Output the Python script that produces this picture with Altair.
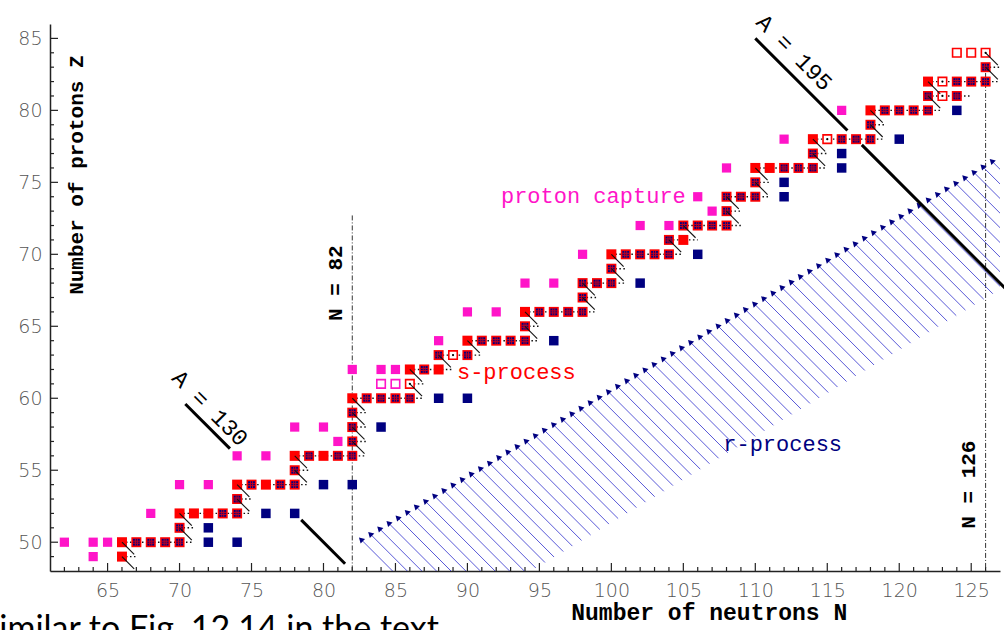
import altair as alt
import pandas as pd

PINK = "#ff14c8"
RED = "#ff0000"
NAVY = "#000080"
HATCH = "#3c3cd0"

# ---- nuclides (N, Z) by class ----
p_N = [62, 64, 65, 64, 68, 70, 72, 74, 76, 81, 78, 80, 82, 84, 85, 88, 90, 92, 94, 96, 98, 102, 104, 107, 106, 108, 112, 116]
p_Z = [50, 50, 50, 49, 52, 54, 54, 56, 56, 57, 58, 58, 62, 62, 62, 64, 66, 66, 68, 68, 70, 72, 72, 73, 74, 76, 78, 80]

s_N = [66, 66, 70, 71, 72, 74, 76, 78, 80, 82, 86, 88, 90, 94, 100, 105, 110, 111, 114, 118, 122]
s_Z = [49, 50, 52, 52, 52, 54, 54, 56, 56, 60, 62, 62, 64, 66, 70, 71, 76, 76, 78, 80, 82]

sr_N = [67, 68, 69, 70, 70, 73, 74, 74, 75, 77, 78, 78, 79, 81, 82, 82, 82, 82, 83, 84, 85, 86, 87, 88, 90,
        91, 92, 93, 94, 94, 95, 96, 97, 98, 98, 98, 99, 100, 100, 101, 102, 103, 104, 104, 105, 106, 107, 108,
        108, 108, 109, 110, 110, 112, 113, 114, 114, 116, 117, 118, 118, 119, 120, 121, 122, 122, 124, 124, 125,
        126, 126]
sr_Z = [50, 50, 50, 50, 51, 52, 52, 53, 54, 54, 54, 55, 56, 56, 56, 57, 58, 59, 60, 60, 60, 60, 62, 63, 63,
        64, 64, 64, 64, 65, 66, 66, 66, 66, 67, 68, 68, 68, 69, 70, 70, 70, 70, 71, 72, 72, 72, 72,
        73, 74, 74, 74, 75, 76, 76, 76, 77, 78, 78, 78, 79, 80, 80, 80, 80, 81, 81, 82, 82,
        82, 83]

r_N = [72, 74, 72, 76, 78, 80, 82, 84, 88, 90, 96, 102, 106, 112, 112, 116, 116, 120, 124]
r_Z = [50, 50, 51, 52, 52, 54, 54, 58, 60, 60, 64, 68, 70, 74, 75, 76, 77, 78, 80]

open_red_N = [89, 86, 115, 123, 123, 124, 125, 126]
open_red_Z = [63, 61, 78, 81, 82, 84, 84, 84]
dot_N = [89, 86, 115, 123, 123, 126]
dot_Z = [63, 61, 78, 81, 82, 84]
open_pink_N = [84, 85]
open_pink_Z = [61, 61]

# ---- s-process path: row Z, first N, dotted line end N ----
path_Z = [49, 50, 51, 52, 53, 54, 55, 56, 57, 58, 59, 60, 61, 62, 63, 64, 65, 66, 67, 68, 69, 70, 71, 72,
          73, 74, 75, 76, 77, 78, 79, 80, 81, 82, 83]
path_N1 = [66, 66, 70, 70, 74, 74, 78, 78, 82, 82, 82, 82, 86, 86, 88, 90, 94, 94, 98, 98, 100, 100, 104, 105,
           108, 108, 110, 110, 114, 114, 118, 118, 122, 122, 126]
path_N2 = [67, 71, 71, 75, 75, 79, 79, 83, 83, 83, 83, 87, 87, 89, 91, 95, 95, 99, 99, 101, 101, 105, 106, 109,
           109, 111, 111, 115, 115, 119, 119, 123, 125, 127, 127]
beta_N = path_N1 + [126]
beta_Z = path_Z + [84]
BETA_LEN = 0.85

# ---- r-process beta-decay arrows ----
rp_N = [82.60, 83.24, 83.87, 84.51, 85.14, 85.78, 86.41, 87.05, 87.68, 88.32,
        88.95, 89.59, 90.22, 90.86, 91.49, 92.13, 92.76, 93.40, 94.03, 94.67,
        95.30, 95.94, 96.57, 97.21, 97.84, 98.48, 99.11, 99.75, 100.38, 101.02,
        101.65, 102.29, 102.92, 103.56, 104.19, 104.83, 105.46, 106.10, 106.73, 107.37,
        108.00, 108.64, 109.27, 109.91, 110.54, 111.18, 111.81, 112.45, 113.08, 113.72,
        114.35, 114.99, 115.62, 116.26, 116.89, 117.53, 118.16, 118.80, 119.43, 120.07,
        120.70, 121.34, 121.97, 122.61, 123.24, 123.88, 124.51, 125.15, 125.78, 126.42]
rp_Z = [50.20, 50.58, 50.96, 51.34, 51.72, 52.11, 52.49, 52.87, 53.25, 53.63,
        54.01, 54.39, 54.77, 55.15, 55.53, 55.92, 56.30, 56.68, 57.06, 57.44,
        57.82, 58.20, 58.58, 58.96, 59.34, 59.73, 60.11, 60.49, 60.87, 61.25,
        61.63, 62.01, 62.39, 62.77, 63.15, 63.54, 63.92, 64.30, 64.68, 65.06,
        65.44, 65.82, 66.20, 66.58, 66.96, 67.35, 67.73, 68.11, 68.49, 68.87,
        69.25, 69.63, 70.01, 70.39, 70.77, 71.16, 71.54, 71.92, 72.30, 72.68,
        73.06, 73.44, 73.82, 74.20, 74.58, 74.97, 75.35, 75.73, 76.11, 76.49]
HATCH_LEN = 5.8

# ---- isobars / magic numbers ----
iso_N1 = [70.4, 78.45, 110.0, 117.4]
iso_N2 = [73.5, 81.5, 116.4, 127.4]
iso_A = [130, 130, 195, 195]
magic_N = [82, 126]
magic_Ztop = [72.7, 82.6]

x_major = [65, 70, 75, 80, 85, 90, 95, 100, 105, 110, 115, 120, 125]
x_minor = [n for n in range(62, 127) if n % 5 != 0]
y_major = [50, 55, 60, 65, 70, 75, 80, 85]
y_minor = [z for z in range(49, 86) if z % 5 != 0]

W, H = 950, 547
XS = alt.Scale(domain=[61, 127], nice=False, zero=False)
YS = alt.Scale(domain=[48, 86], nice=False, zero=False)
XAX = alt.Axis(values=x_major, ticks=False, grid=False, title=None, labelFont="DejaVu Sans",
               labelFontSize=19, labelColor="#555", labelPadding=10, domainColor="#222",
               domainWidth=1.5, labelFontWeight=300)
YAX = alt.Axis(values=y_major, ticks=False, grid=False, title=None, labelFont="DejaVu Sans",
               labelFontSize=19, labelColor="#555", labelPadding=8, domainColor="#222",
               domainWidth=1.5, labelFontWeight=300)


def X(f):
    return alt.X(f, type="quantitative", scale=XS, axis=XAX)


def Y(f):
    return alt.Y(f, type="quantitative", scale=YS, axis=YAX)


def pts(N, Z):
    return pd.DataFrame({"N": N, "Z": Z})


layers = []

# ticks (inward)
layers.append(alt.Chart(pd.DataFrame({"t": x_major})).mark_rule(color="#222", strokeWidth=1.2).encode(
    x=X("t"), y=alt.value(H), y2=alt.value(H - 8)))
layers.append(alt.Chart(pd.DataFrame({"t": x_minor})).mark_rule(color="#222", strokeWidth=1.2).encode(
    x=X("t"), y=alt.value(H), y2=alt.value(H - 4)))
layers.append(alt.Chart(pd.DataFrame({"t": y_major})).mark_rule(color="#222", strokeWidth=1.2).encode(
    y=Y("t"), x=alt.value(0), x2=alt.value(8)))
layers.append(alt.Chart(pd.DataFrame({"t": y_minor})).mark_rule(color="#222", strokeWidth=1.2).encode(
    y=Y("t"), x=alt.value(0), x2=alt.value(4)))

# magic number lines
mag = pd.DataFrame({"N": magic_N, "Zt": magic_Ztop, "Zb": [48, 48]})
layers.append(alt.Chart(mag).mark_rule(color="#333", strokeWidth=1, strokeDash=[5, 2, 1, 2]).encode(
    x=X("N"), y=Y("Zt"), y2="Zb"))

# r-process hatch + arrowheads
rp = pd.DataFrame({"N": rp_N, "Z": rp_Z})
rp["N2"] = rp["N"] + HATCH_LEN
rp["Z2"] = rp["Z"] - HATCH_LEN
layers.append(alt.Chart(rp).mark_rule(color=HATCH, strokeWidth=1, clip=True, opacity=0.85).encode(
    x=X("N"), y=Y("Z"), x2="N2", y2="Z2"))
layers.append(alt.Chart(rp).mark_point(shape="triangle-up", angle=315, size=40, filled=True,
                                       color=NAVY, opacity=1).encode(x=X("N"), y=Y("Z")))

# isobar lines
iso = pd.DataFrame({"N1": iso_N1, "N2": iso_N2, "A": iso_A})
iso["Z1"] = iso["A"] - iso["N1"]
iso["Z2"] = iso["A"] - iso["N2"]
layers.append(alt.Chart(iso).mark_rule(color="black", strokeWidth=3).encode(
    x=X("N1"), y=Y("Z1"), x2="N2", y2="Z2"))

# s-process neutron captures (dotted)
path = pd.DataFrame({"Z": path_Z, "N1": path_N1, "N2": path_N2})
layers.append(alt.Chart(path).mark_rule(color="#111", strokeWidth=1.4, strokeDash=[1.5, 2.5]).encode(
    x=X("N1"), x2="N2", y=Y("Z")))

# nuclide squares
layers.append(alt.Chart(pts(p_N, p_Z)).mark_square(size=85, color=PINK, opacity=1).encode(x=X("N"), y=Y("Z")))
layers.append(alt.Chart(pts(s_N, s_Z)).mark_square(size=100, color=RED, opacity=1).encode(x=X("N"), y=Y("Z")))
layers.append(alt.Chart(pts(sr_N, sr_Z)).mark_square(size=100, color=RED, opacity=1).encode(x=X("N"), y=Y("Z")))
layers.append(alt.Chart(pts(sr_N, sr_Z)).mark_square(size=46, color=NAVY, opacity=1).encode(x=X("N"), y=Y("Z")))
layers.append(alt.Chart(pts(sr_N, sr_Z)).mark_point(
    shape="M-1,-0.3H1M-1,0.3H1M-0.3,-1V1M0.3,-1V1", size=46, filled=False, stroke=RED,
    strokeWidth=1, opacity=0.75).encode(x=X("N"), y=Y("Z")))
layers.append(alt.Chart(pts(r_N, r_Z)).mark_square(size=90, color=NAVY, opacity=1).encode(x=X("N"), y=Y("Z")))
layers.append(alt.Chart(pts(open_red_N, open_red_Z)).mark_point(
    shape="square", size=72, filled=False, fill="white", stroke=RED, strokeWidth=1.6, opacity=1).encode(
    x=X("N"), y=Y("Z")))
layers.append(alt.Chart(pts(open_pink_N, open_pink_Z)).mark_point(
    shape="square", size=72, filled=False, fill="white", stroke=PINK, strokeWidth=1.6, opacity=1).encode(
    x=X("N"), y=Y("Z")))
layers.append(alt.Chart(pts(dot_N, dot_Z)).mark_circle(size=5, color="black", opacity=1).encode(
    x=X("N"), y=Y("Z")))

# beta decays (diagonals)
beta = pd.DataFrame({"N": beta_N, "Z": beta_Z})
beta["N2"] = beta["N"] + BETA_LEN
beta["Z2"] = beta["Z"] - BETA_LEN
layers.append(alt.Chart(beta).mark_rule(color="#111", strokeWidth=1.1).encode(
    x=X("N"), y=Y("Z"), x2="N2", y2="Z2"))


def label(text, N, Z, color="black", size=22, angle=0, weight="normal", font="Liberation Mono"):
    df = pd.DataFrame({"N": [N], "Z": [Z], "t": [text]})
    return alt.Chart(df).mark_text(font=font, fontSize=size, color=color, angle=angle,
                                   fontWeight=weight, align="center", baseline="middle").encode(
        x=X("N"), y=Y("Z"), text="t")


layers.append(label("proton capture", 98.75, 74.06, PINK))
layers.append(label("s-process", 93.4, 61.8, RED))
layers.append(label("r-process", 111.9, 56.83, NAVY))
layers.append(label("N = 82", 80.9, 68.0, angle=270, weight="bold", size=21))
layers.append(label("N = 126", 124.86, 54.0, angle=270, weight="bold", size=21))
layers.append(label("A = 130", 72.1, 59.3, angle=45, size=23))
layers.append(label("A = 195", 112.7, 84.0, angle=45, size=23))
layers.append(label("Number of protons Z", 62.85, 75.5, angle=270, weight="bold", size=21))
layers.append(label("Number of neutrons N", 106.8, 45.1, weight="bold", size=23))

note = pd.DataFrame({"t": ["Similar to Fig. 12.14 in the text"]})
layers.append(alt.Chart(note).mark_text(font="Lato", fontSize=34, color="black", align="left",
                                        baseline="alphabetic").encode(
    x=alt.value(-69), y=alt.value(616), text="t"))

chart = alt.layer(*layers).properties(
    width=W, height=H,
    padding={"left": 50, "top": 24, "right": 4, "bottom": 59},
    autosize=alt.AutoSizeParams(type="none"),
    background="white",
).configure_view(stroke=None)

chart.save("out.html", embed_options={"renderer": "svg", "actions": False})
